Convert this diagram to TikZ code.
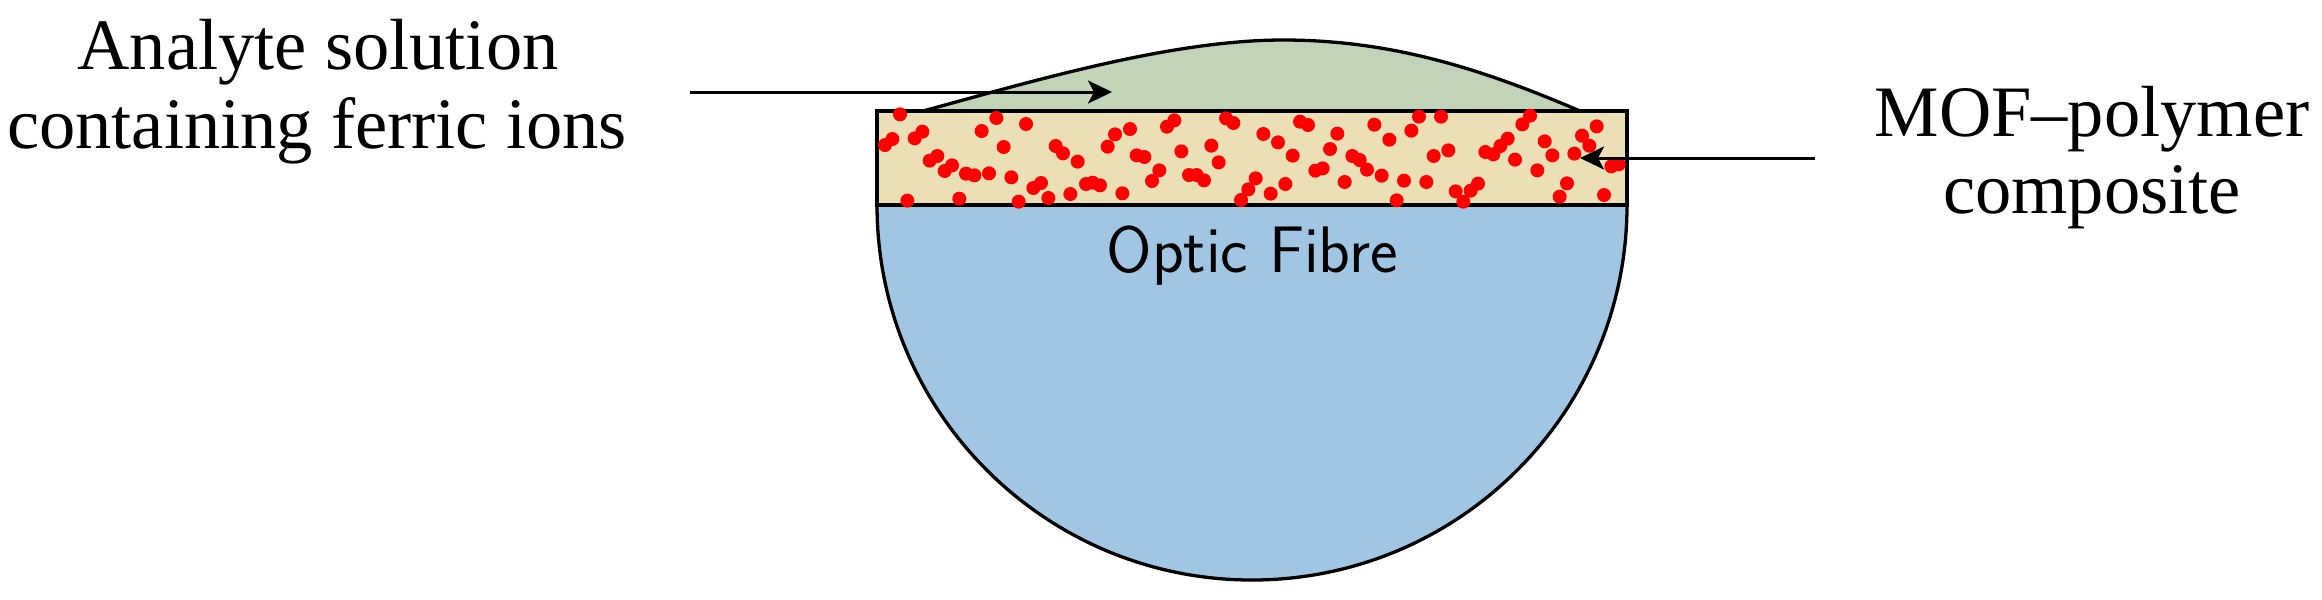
\documentclass[tikz,border=0pt]{standalone}
\usepackage{fontspec}
\usetikzlibrary{arrows.meta}
\newfontfamily\labfont{Liberation Serif}
\definecolor{dropgreen}{HTML}{C1D3B8}
\definecolor{layertan}{HTML}{EBDFB5}
\definecolor{fibreblue}{HTML}{A0C6E4}
\tikzset{
  px/.style={x=0.01cm,y=-0.01cm},
  outline/.style={draw=black,line width=0.033cm},
  callout/.style={draw=black,line width=0.03cm,-{Stealth[length=0.24cm,width=0.23cm,inset=0.06cm]}},
  label text/.style={font=\labfont\fontsize{20.6}{22}\selectfont,text=black,inner sep=0pt,anchor=base},
  fibre text/.style={font=\sffamily\fontsize{18.7}{22}\selectfont,text=black,inner sep=0pt,anchor=base},
}
\begin{document}
\begin{tikzpicture}[px]
\useasboundingbox (0,0) rectangle (2322,599);
% fibre half circle
\path[outline,fill=fibreblue] (877,205) arc[start angle=180,end angle=360,x radius=375,y radius=-375] -- cycle;
% analyte drop
\path[outline,fill=dropgreen] (923,111) .. controls (1030,82) and (1170,40) .. (1283,40) .. controls (1390,40) and (1480,68) .. (1580,111);
% composite layer
\path[outline,fill=layertan] (877,111) rectangle (1627,205);
% particles
\foreach \u/\v in {120/283,97/357,75/375,187/335,164/355,365/333,409/294,498/312,431/381,232/408,209/422,276/436,254/453,318/461,343/466,387/460,454/472,543/489,520/504,565/534,476/545,142/542,298/536,587/378,609/400,653/425,631/522,678/492,698/488,720/496,787/520,743/380,765/343,810/327,830/406,853/411,898/451,876/483,921/320,943/301,964/394,987/465,1010/465,1032/481,1054/377,1076/427,1098/295,1120/309,1143/540,1165/508,1187/475}
  \fill[red] ({860+\u/3},{20+\v/3}) circle[radius=0.07cm];
\foreach \u/\v in {40/342,84/367,128/407,150/305,174/315,62/521,106/492,196/452,218/445,240/387,262/341,284/486,307/408,329/420,351/449,373/314,395/467,418/359,440/541,462/482,484/332,507/290,529/486,551/408,573/290,595/391,617/514,640/545,662/512,684/491,706/396,730/403,751/378,773/356,795/419,817/313,840/287,862/451,884/364,907/406,929/530,951/490,973/401,996/347,1018/377,1040/319,1062/525,1084/439,1106/433}
  \fill[red] ({1250+\u/3},{20+\v/3}) circle[radius=0.07cm];
% labels
\node[label text] (an1) at (318,69) {Analyte solution};
\node[label text] (an2) at (317,148) {containing ferric ions};
\node[label text] (mof1) at (2092,136) {MOF–polymer};
\node[label text] (mof2) at (2092,213) {composite};
\node[fibre text] (fibre) at (1252,272) {Optic Fibre};
% arrows
\coordinate (a1s) at (690,92);
\coordinate (a1e) at (1112,92);
\coordinate (a2s) at (1815,158);
\coordinate (a2e) at (1580,158);
\draw[callout] (a1s) -- (a1e);
\draw[callout] (a2s) -- (a2e);
\end{tikzpicture}
\end{document}
